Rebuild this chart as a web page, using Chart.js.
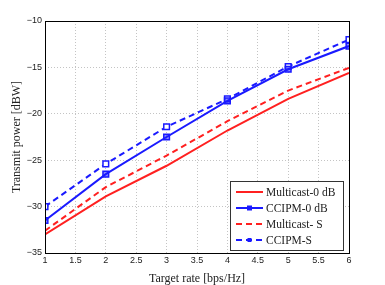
<!DOCTYPE html>
<html>
<head>
<meta charset="UTF-8">
<script src="https://cdn.jsdelivr.net/npm/chart.js"></script>
<style>
  body { margin: 0; background: #fff; }
  canvas { display: block; }
</style>
</head>
<body>
<canvas id="c" width="385" height="285"></canvas>
<script>
// data
const rates = [1, 2, 3, 4, 5, 6];
const multicast0 = [-33.0, -28.9, -25.6, -21.8, -18.4, -15.6];
const ccipm0 = [-31.5, -26.5, -22.5, -18.6, -15.2, -12.7];
const multicastS = [-32.6, -27.9, -24.5, -20.8, -17.5, -15.05];
const ccipmS = [-30.0, -25.4, -21.4, -18.4, -14.9, -12.0];
const seriesNames = ['Multicast-0 dB', 'CCIPM-0 dB', 'Multicast- S', 'CCIPM-S'];

const pts = arr => arr.map((v, i) => ({ x: rates[i], y: v }));

// draws box around plot + legend inside lower right
const framePlugin = {
  id: 'frame',
  afterDraw(chart) {
    const ctx = chart.ctx, a = chart.chartArea;
    ctx.save();
    ctx.strokeStyle = '#000';
    ctx.lineWidth = 1;
    ctx.strokeRect(a.left + 0.5, a.top + 0.5, a.right - a.left, a.bottom - a.top);

    // legend
    const bx = 230, by = 181, bw = 113, bh = 69;
    ctx.fillStyle = '#fff';
    ctx.fillRect(bx, by, bw, bh);
    ctx.strokeStyle = '#333';
    ctx.strokeRect(bx + 0.5, by + 0.5, bw, bh);
    chart.data.datasets.forEach((ds, i) => {
      const y = by + 11 + i * 16;
      ctx.strokeStyle = ds.borderColor;
      ctx.lineWidth = 2;
      ctx.setLineDash(ds.borderDash || []);
      ctx.beginPath();
      ctx.moveTo(bx + 6, y);
      ctx.lineTo(bx + 33, y);
      ctx.stroke();
      ctx.setLineDash([]);
      if (ds.pointRadius > 0) {
        ctx.fillStyle = ds.borderColor;
        const s = i === 1 ? 5 : 4;
        ctx.fillRect(bx + 19.5 - s / 2, y - s / 2, s, s);
      }
      ctx.fillStyle = '#222';
      ctx.font = '11.5px "Liberation Serif", serif';
      ctx.textBaseline = 'middle';
      ctx.fillText(ds.label, bx + 36, y + 0.5);
    });
    ctx.restore();
  }
};

const tickFont = { size: 9, family: 'Liberation Sans' };
const titleFont = { size: 12, family: 'Liberation Serif', lineHeight: 1 };

new Chart(document.getElementById('c'), {
  type: 'line',
  data: {
    datasets: [
      { label: seriesNames[0], data: pts(multicast0), borderColor: '#ff2020', borderWidth: 2,
        pointRadius: 0 },
      { label: seriesNames[1], data: pts(ccipm0), borderColor: '#1a1aff', borderWidth: 2,
        pointStyle: 'rect', pointRadius: 4, pointBackgroundColor: 'rgba(26,26,255,0.5)', pointBorderWidth: 1.5 },
      { label: seriesNames[2], data: pts(multicastS), borderColor: '#ff2020', borderWidth: 2,
        borderDash: [6, 4], pointRadius: 0 },
      { label: seriesNames[3], data: pts(ccipmS), borderColor: '#1a1aff', borderWidth: 2,
        borderDash: [6, 4], pointStyle: 'rect', pointRadius: 4, pointBackgroundColor: '#fff', pointBorderWidth: 1.5 }
    ]
  },
  options: {
    responsive: false,
    animation: false,
    layout: { padding: { top: 21, right: 36, left: 0, bottom: 0 } },
    plugins: { legend: { display: false }, tooltip: { enabled: false } },
    scales: {
      x: {
        type: 'linear', min: 1, max: 6,
        afterFit: s => { s.height = 32; },
        ticks: { stepSize: 0.5, color: '#222', font: tickFont, padding: 2, maxRotation: 0,
                 callback: v => String(v) },
        grid: { color: '#c4c4c4', drawTicks: false },
        border: { display: false, dash: [1, 2] },
        title: { display: true, text: 'Target rate [bps/Hz]', color: '#222',
                 font: titleFont, padding: { top: 1, bottom: 0 } }
      },
      y: {
        min: -35, max: -10,
        afterFit: s => { s.width = 45; },
        ticks: { stepSize: 5, color: '#222', font: tickFont, padding: 3,
                 callback: v => String(v).replace('-', '\u2212') },
        grid: { color: '#c4c4c4', drawTicks: false },
        border: { display: false, dash: [1, 2] },
        title: { display: true, text: 'Transmit power [dBW]', color: '#222',
                 font: titleFont, padding: { top: 11, bottom: 0 } }
      }
    }
  },
  plugins: [framePlugin]
});
</script>
</body>
</html>
